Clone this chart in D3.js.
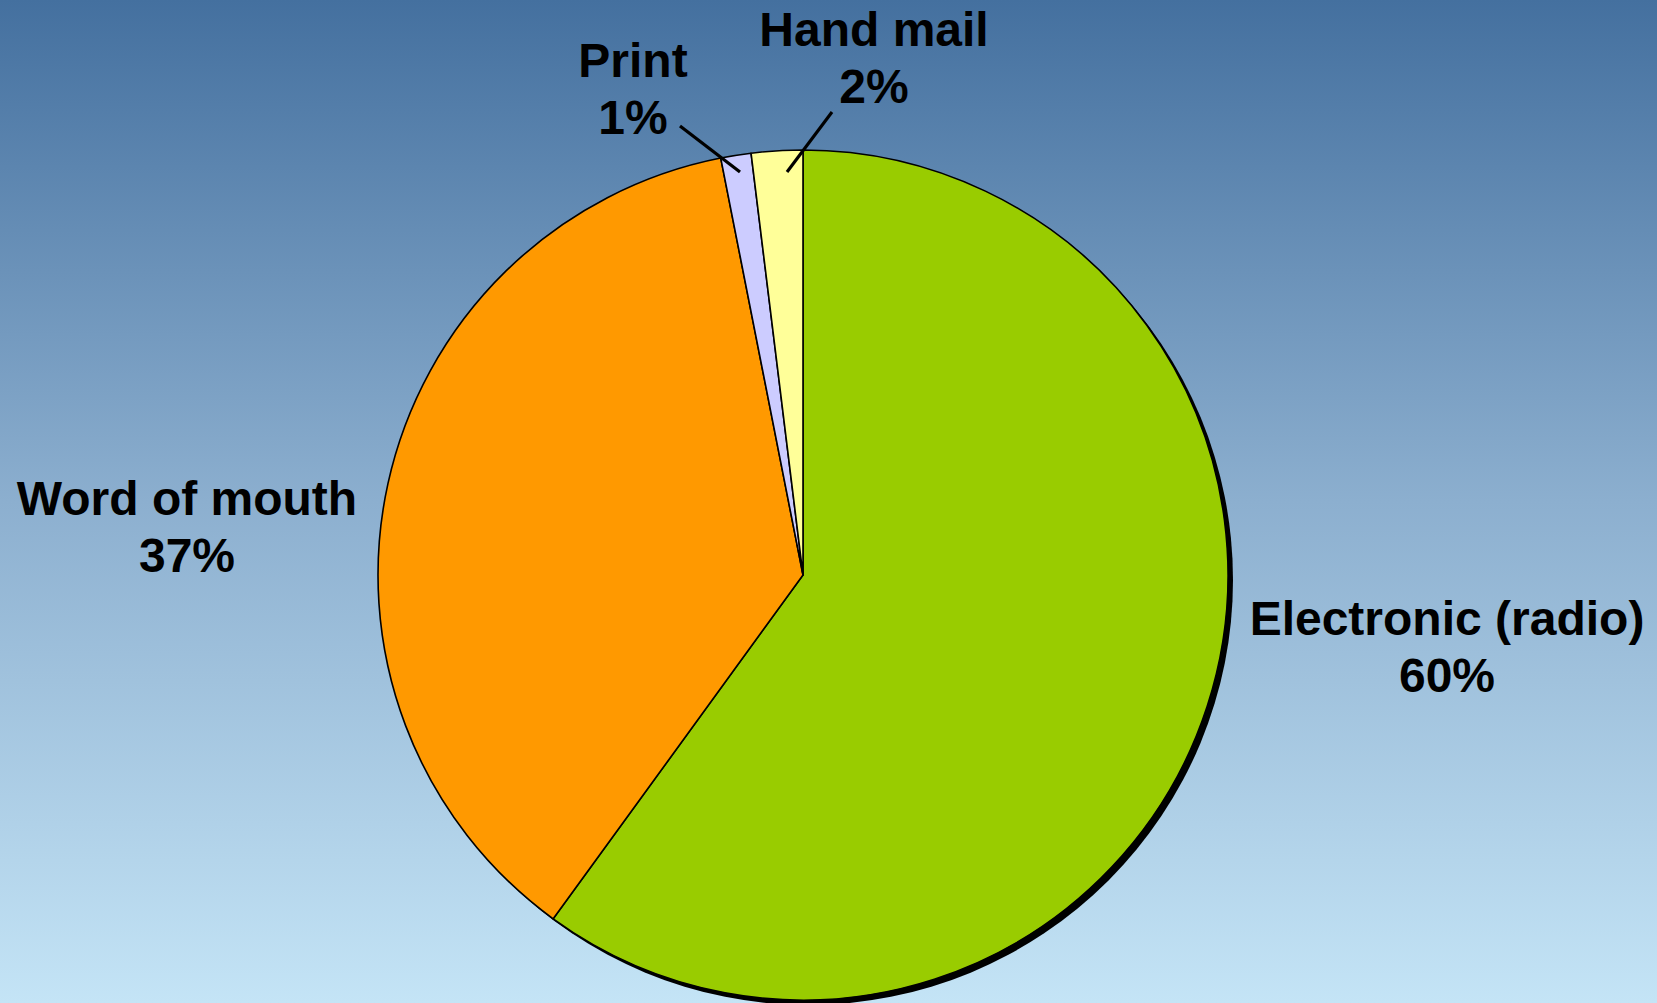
<!DOCTYPE html>
<html>
<head>
<meta charset="utf-8">
<script src="https://cdn.jsdelivr.net/npm/d3@7"></script>
<style>
  html, body { margin: 0; padding: 0; overflow: hidden; }
  svg { display: block; }
  .pie-label { font-family: "Liberation Sans", Arial, sans-serif; font-weight: bold; font-size: 48px; fill: #000; }
</style>
</head>
<body>
<div id="chart"></div>
<script>
// data, clockwise from 12 o'clock
const categories = ["Electronic (radio)", "Word of mouth", "Print", "Hand mail"];
const shares = [60.0, 36.9, 1.15, 1.95];
const shownPct = ["60%", "37%", "1%", "2%"];
const sliceColors = ["#99cc00", "#ff9900", "#ccccff", "#ffff99"];

const width = 1657, height = 1003;
const cx = 803, cy = 575, radius = 425;

// label spots (centre of the text block) and whether they get a leader line
const labelSpots = [
  { x: 1447, y: 635, leader: null },
  { x: 187, y: 515, leader: null },
  { x: 633, y: 77, leader: [[680, 126], [740, 172]] },
  { x: 874, y: 46, leader: [[832, 112], [787, 172]] }
];

const svg = d3.select("#chart").append("svg")
  .attr("width", width)
  .attr("height", height)
  .attr("viewBox", [0, 0, width, height]);

// background gradient
const grad = svg.append("defs").append("linearGradient")
  .attr("id", "bg")
  .attr("x1", 0).attr("y1", 0).attr("x2", 0).attr("y2", 1);
grad.append("stop").attr("offset", "0%").attr("stop-color", "#44709f");
grad.append("stop").attr("offset", "50%").attr("stop-color", "#8cafcf");
grad.append("stop").attr("offset", "100%").attr("stop-color", "#c4e4f6");

svg.append("rect")
  .attr("width", width)
  .attr("height", height)
  .attr("fill", "url(#bg)");

const pie = d3.pie().sort(null).value(d => d)
const arcs = pie(shares);
const arc = d3.arc().innerRadius(0).outerRadius(radius);

const g = svg.append("g").attr("transform", `translate(${cx},${cy})`);

// shadow under the pie
g.append("circle")
  .attr("cx", 5)
  .attr("cy", 5)
  .attr("r", radius)
  .attr("fill", "#000");

g.selectAll("path.slice")
  .data(arcs)
  .enter()
  .append("path")
  .attr("class", "slice")
  .attr("d", arc)
  .attr("fill", (d, i) => sliceColors[i])
  .attr("stroke", "#000")
  .attr("stroke-width", 1.6)
  .attr("stroke-linejoin", "round");

// leader lines
svg.selectAll("line.leader")
  .data(labelSpots.filter(d => d.leader))
  .enter()
  .append("line")
  .attr("class", "leader")
  .attr("x1", d => d.leader[0][0])
  .attr("y1", d => d.leader[0][1])
  .attr("x2", d => d.leader[1][0])
  .attr("y2", d => d.leader[1][1])
  .attr("stroke", "#000")
  .attr("stroke-width", 3.2);

// labels: name on the first line, percent on the second
const labels = svg.selectAll("text.pie-label")
  .data(categories)
  .enter()
  .append("text")
  .attr("class", "pie-label")
  .attr("text-anchor", "middle")
  .attr("x", (d, i) => labelSpots[i].x)
  .attr("y", (d, i) => labelSpots[i].y);

labels.append("tspan")
  .attr("x", (d, i) => labelSpots[i].x)
  .text(d => d);

labels.append("tspan")
  .attr("x", (d, i) => labelSpots[i].x)
  .attr("dy", 57)
  .text((d, i) => shownPct[i]);
</script>
</body>
</html>
